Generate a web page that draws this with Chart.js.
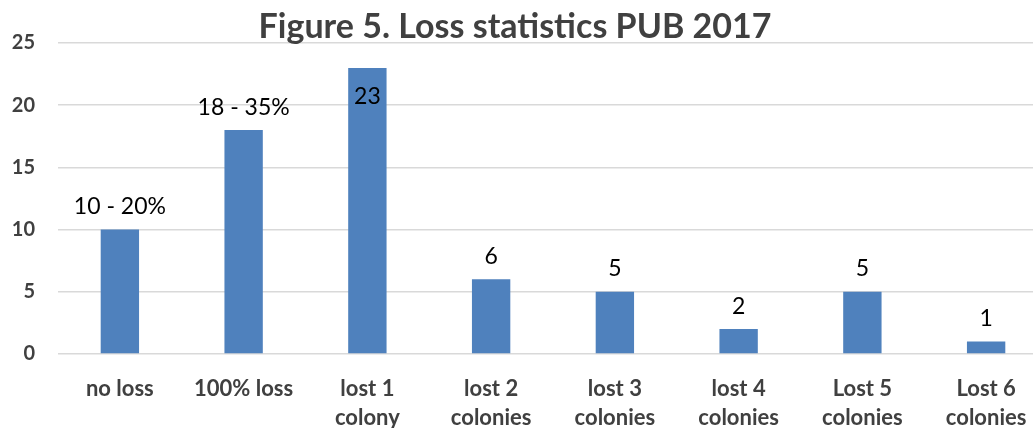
<!DOCTYPE html>
<html>
<head>
<meta charset="utf-8">
<script src="https://cdn.jsdelivr.net/npm/chart.js@4.4.1/dist/chart.umd.min.js"></script>
<style>
html,body{margin:0;padding:0;background:#fff;overflow:hidden;}
#wrap{position:relative;width:1050px;height:428px;}
</style>
</head>
<body>
<div id="wrap"><canvas id="c"></canvas></div>
<script>
const categories = [["no loss"],["100% loss"],["lost 1","colony"],["lost 2","colonies"],["lost 3","colonies"],["lost 4","colonies"],["Lost 5","colonies"],["Lost 6","colonies"]];
const values = [10, 18, 23, 6, 5, 2, 5, 1];
const valueLabels = ["10 - 20%", "18 - 35%", "23", "6", "5", "2", "5", "1"];
const yTicks = [0, 5, 10, 15, 20, 25];
const titleText = "Figure 5. Loss statistics PUB 2017";

const labelPlugin = {
  id: 'valueLabels',
  afterDatasetsDraw(chart) {
    const ctx = chart.ctx;
    const meta = chart.getDatasetMeta(0);
    ctx.save();
    ctx.font = '23px Lato';
    ctx.fillStyle = '#000';
    ctx.textAlign = 'center';
    ctx.textBaseline = 'middle';
    meta.data.forEach((bar, i) => {
      const inside = values[i] >= 23;
      const y = inside ? bar.y + 29 : bar.y - 23;
      ctx.fillText(valueLabels[i], bar.x, y);
    });
    ctx.restore();
  }
};
const titlePlugin = {
  id: 'customTitle',
  afterDraw(chart) {
    const ctx = chart.ctx;
    ctx.save();
    ctx.font = 'bold 34px Lato';
    ctx.fillStyle = '#404040';
    ctx.textAlign = 'center';
    ctx.textBaseline = 'alphabetic';
    ctx.fillText(titleText, 515, 38);
    ctx.restore();
  }
};

new Chart(document.getElementById('c'), {
  type: 'bar',
  data: {
    labels: categories,
    datasets: [{
      data: values,
      backgroundColor: '#4F81BD',
      barPercentage: 0.31,
      categoryPercentage: 1.0
    }]
  },
  options: {
    responsive: true,
    maintainAspectRatio: false,
    animation: false,
    layout: { padding: { top: 43, right: 2, left: 0, bottom: 0 } },
    plugins: { legend: { display: false }, tooltip: { enabled: false }, title: { display: false } },
    scales: {
      x: {
        grid: { display: false, drawTicks: false },
        border: { display: false },
        ticks: {
          color: '#404040',
          font: { family: 'Lato', weight: 'bold', size: 22, lineHeight: 1.32 },
          padding: 20,
          maxRotation: 0,
          autoSkip: false
        },
        afterFit(scale) { scale.height = 74; }
      },
      y: {
        min: 0, max: 25,
        afterBuildTicks(scale) { scale.ticks = yTicks.map(v => ({ value: v })); },
        grid: { color: '#d9d9d9', lineWidth: 1.5, drawTicks: false },
        border: { display: false },
        ticks: {
          color: '#404040',
          font: { family: 'Lato', weight: 'bold', size: 20 },
          padding: 23
        },
        afterFit(scale) { scale.width = 58; }
      }
    }
  },
  plugins: [labelPlugin, titlePlugin]
});
</script>
</body>
</html>
